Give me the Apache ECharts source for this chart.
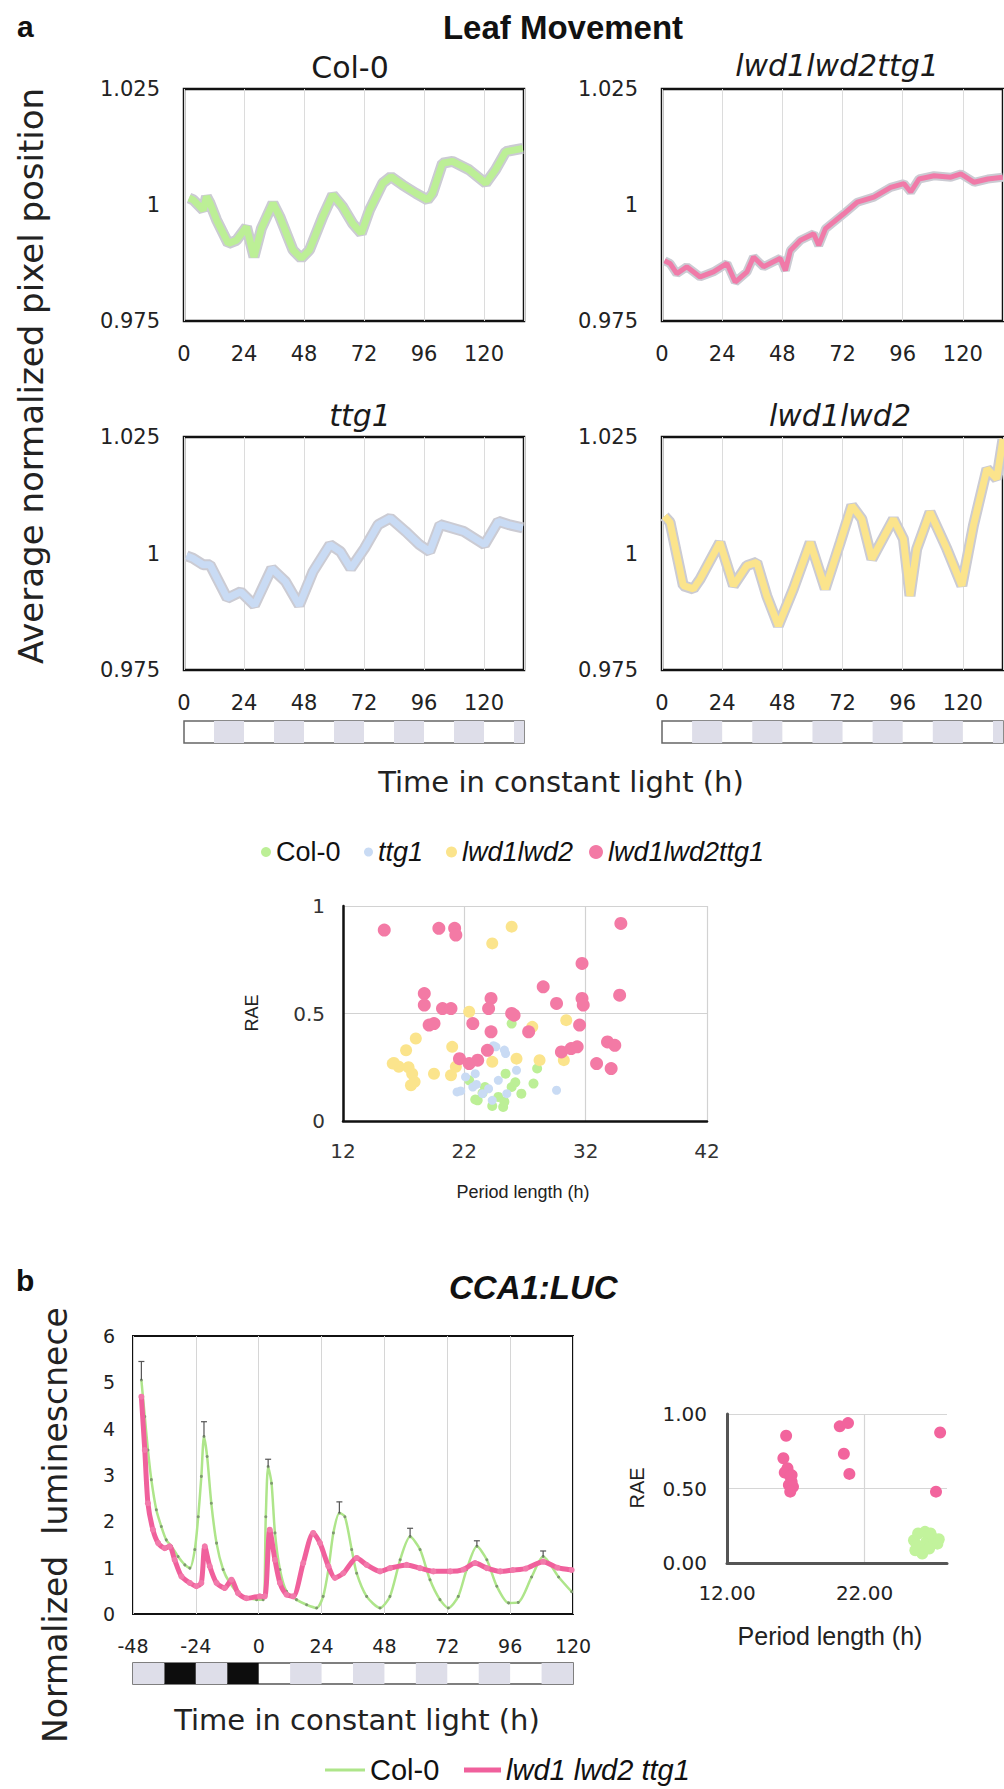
<!DOCTYPE html>
<html>
<head>
<meta charset="utf-8">
<style>
html,body{margin:0;padding:0;background:#fff;}
#chart{width:1004px;height:1789px;}
</style>
<script src="https://cdn.jsdelivr.net/npm/echarts@6/dist/echarts.min.js"></script>
</head>
<body>
<div id="chart"></div>
<script>
// ---------- Panel a: leaf movement traces (hours, normalized position) ----------
const col0H = [2, 3.7, 7.7, 9, 10.4, 13, 17.7, 21, 25, 28, 31, 35.6, 38.3, 43.6, 46.9, 50.2, 55.5, 59.5, 63.5, 67.5, 70.9, 74.2, 79.5, 82.8, 87.5, 92.8, 97.4, 99.4, 103.4, 107.4, 114, 120.7, 124.6, 128.7, 135.5];
const col0V = [1.0015, 1.0011, 0.9989, 1.0018, 1.0004, 0.9968, 0.9917, 0.9924, 0.9953, 0.9888, 0.9950, 1.0004, 0.9975, 0.9903, 0.9885, 0.9903, 0.9975, 1.0022, 0.9996, 0.9960, 0.9939, 0.9989, 1.0047, 1.0061, 1.0043, 1.0025, 1.0011, 1.0025, 1.0090, 1.0094, 1.0076, 1.0047, 1.0076, 1.0115, 1.0122];

const tripleH = [1, 3.2, 5.9, 9.9, 15.2, 20.5, 25.9, 29.2, 33.9, 36.5, 40.5, 47.2, 49.2, 51.2, 55.2, 60.5, 62.5, 65.2, 72.5, 77.9, 84.5, 91.2, 96.5, 99.2, 102.5, 108.5, 115.2, 119.2, 124.5, 129.9, 135.9];
const tripleV = [0.9880, 0.9874, 0.9852, 0.9867, 0.9845, 0.9856, 0.9874, 0.9834, 0.9856, 0.9888, 0.9867, 0.9885, 0.9859, 0.9902, 0.9924, 0.9938, 0.9913, 0.9949, 0.9981, 1.0006, 1.0017, 1.0038, 1.0046, 1.0028, 1.0056, 1.0063, 1.0060, 1.0067, 1.0049, 1.0056, 1.0060];

const ttgH = [1, 3.5, 7.6, 10.4, 17.3, 22.7, 28.2, 35.1, 40.6, 46.1, 51.6, 58.4, 62.6, 66.7, 72.2, 77.7, 82.5, 88.7, 94.2, 98.3, 102.4, 105.1, 112, 120.2, 125.7, 129.8, 135.5];
const ttgV = [0.9995, 0.9990, 0.9976, 0.9976, 0.9904, 0.9918, 0.9889, 0.9968, 0.9940, 0.9889, 0.9961, 1.0019, 1.0004, 0.9968, 1.0011, 1.0062, 1.0076, 1.0047, 1.0019, 1.0004, 1.0062, 1.0058, 1.0047, 1.0019, 1.0069, 1.0062, 1.0055];

const lwdH = [1, 3.2, 8.5, 12.5, 15.2, 23.1, 28.5, 33.8, 37.8, 41.8, 46.4, 52.4, 59.1, 65.1, 71.1, 75.7, 79.7, 83.7, 92.3, 96.3, 98.9, 101.6, 106.9, 113.6, 119.6, 124.2, 129.6, 133.5, 136];
const lwdV = [1.0080, 1.0067, 0.9931, 0.9924, 0.9945, 1.0024, 0.9931, 0.9974, 0.9981, 0.9909, 0.9845, 0.9924, 1.0024, 0.9924, 1.0024, 1.0103, 1.0074, 0.9988, 1.0074, 1.0031, 0.9909, 1.0010, 1.0089, 1.0010, 0.9931, 1.0060, 1.0182, 1.0160, 1.0246];

// subjective night blocks under panel a
const nightStartA = [12, 36, 60, 84, 108, 132];
const nightEndA = [24, 48, 72, 96, 120, 136];

// ---------- Panel a scatter: period length vs RAE ----------
const grnP = [25.9, 28.0, 27.7, 26.7, 25.4, 25.2, 23.1, 24.8, 22.4, 23.7, 25.9, 22.9, 25.3, 24.3, 23.5, 26.2];
const grnR = [0.453, 0.244, 0.174, 0.127, 0.220, 0.065, 0.096, 0.112, 0.189, 0.158, 0.158, 0.10, 0.09, 0.07, 0.13, 0.18];
const bluP = [24.6, 25.4, 26.3, 29.6, 21.4, 22.1, 22.7, 23.5, 24.3, 24.8, 25.5, 22.9, 24.4, 25.3, 23.0, 24.0, 21.7];
const bluR = [0.345, 0.314, 0.236, 0.143, 0.135, 0.205, 0.158, 0.127, 0.096, 0.189, 0.127, 0.22, 0.35, 0.33, 0.17, 0.15, 0.14];
const yelP = [25.9, 24.3, 22.4, 27.6, 30.4, 18.0, 17.2, 16.1, 16.6, 17.7, 17.9, 17.6, 19.5, 20.9, 21.0, 21.3, 24.3, 26.3, 28.2, 30.2, 16.2, 17.4];
const yelR = [0.904, 0.826, 0.508, 0.438, 0.469, 0.384, 0.329, 0.267, 0.252, 0.220, 0.182, 0.166, 0.220, 0.213, 0.345, 0.252, 0.275, 0.290, 0.283, 0.283, 0.27, 0.25];
const pnkP = [15.4, 19.9, 21.2, 21.3, 31.7, 34.9, 28.5, 18.7, 18.7, 20.2, 20.9, 19.1, 19.5, 24.2, 24.0, 22.7, 25.9, 26.1, 24.2, 29.6, 31.7, 31.8, 31.5, 27.3, 34.8, 33.8, 34.4, 32.9, 34.1, 30.0, 30.8, 31.3, 23.9, 21.6, 22.4, 23.1];
const pnkR = [0.888, 0.896, 0.896, 0.865, 0.733, 0.919, 0.624, 0.593, 0.539, 0.523, 0.523, 0.446, 0.453, 0.570, 0.523, 0.453, 0.500, 0.492, 0.415, 0.547, 0.570, 0.539, 0.446, 0.415, 0.585, 0.368, 0.352, 0.267, 0.244, 0.321, 0.337, 0.345, 0.329, 0.290, 0.267, 0.283];

// ---------- Panel b: CCA1:LUC luminescence ----------
const lucColH = [-44.8, -43.5, -42.3, -41, -39.1, -37.2, -35.3, -33.3, -30.8, -28.2, -26.3, -24.4, -23.1, -21.9, -20.9, -19.7, -18.1, -16.1, -13.6, -11, -7.2, -0.8, 1.7, 2.7, 3.6, 4.9, 6.2, 8.1, 10.6, 14.4, 18.3, 22.1, 24.6, 26.6, 28.5, 30.8, 32.9, 35.5, 37.4, 41.2, 46.3, 50.1, 54, 57.8, 61.6, 65.4, 69.2, 72.4, 76.2, 79.4, 83.3, 87.1, 90.9, 95.4, 99.1, 104.2, 108.6, 114.5, 119.5];
const lucColV = [5.05, 4.26, 3.54, 2.9, 2.25, 1.89, 1.6, 1.46, 1.24, 1.06, 0.99, 1.39, 2.1, 2.97, 3.83, 3.4, 2.39, 1.53, 0.96, 0.67, 0.42, 0.31, 0.31, 2.1, 3.18, 2.82, 1.75, 0.96, 0.49, 0.31, 0.2, 0.13, 0.38, 0.96, 1.75, 2.18, 2.1, 1.39, 0.88, 0.38, 0.13, 0.38, 1.17, 1.67, 1.39, 0.74, 0.31, 0.13, 0.38, 0.96, 1.46, 1.17, 0.6, 0.24, 0.25, 0.8, 1.24, 0.8, 0.48];
const lucTriH = [-44.8, -43.5, -42.3, -40.4, -38.4, -35.9, -34, -32.1, -29.5, -26.3, -23.8, -21.9, -20.6, -18.7, -16.1, -13, -10.4, -7.9, -4.7, 0.4, 2.3, 4.2, 6.2, 8.1, 10.6, 13.2, 17, 20.8, 23.4, 26.6, 29.1, 32.3, 37.4, 41.2, 46.3, 50.1, 56.5, 61.6, 66.7, 73.1, 78.2, 82.6, 87.1, 92.2, 97, 102, 108.6, 114, 119.5];
const lucTriV = [4.69, 3.54, 2.39, 1.82, 1.53, 1.42, 1.46, 1.17, 0.81, 0.67, 0.6, 0.67, 1.46, 1.03, 0.67, 0.56, 0.74, 0.45, 0.34, 0.38, 0.38, 1.82, 1.17, 0.67, 0.42, 0.38, 1.1, 1.75, 1.53, 1.03, 0.78, 0.88, 1.21, 1.06, 0.92, 0.99, 1.06, 0.99, 0.92, 0.92, 0.96, 1.1, 0.99, 0.92, 0.95, 0.98, 1.13, 1.0, 0.95];
// error bars at Col-0 peaks
const errH = [-44.8, -20.9, 3.6, 30.8, 57.8, 83.3, 108.6];
const errMean = [5.05, 3.83, 3.18, 2.18, 1.67, 1.46, 1.24];
const errHigh = [5.45, 4.15, 3.34, 2.42, 1.85, 1.58, 1.36];
// light/dark schedule bar under panel b
const lucBarStart = [-48, -36, -24, -12, 12, 36, 60, 84, 108];
const lucBarEnd = [-36, -24, -12, 0, 24, 48, 72, 96, 120];
const lucBarDark = [0, 1, 0, 1, 0, 0, 0, 0, 0];

// ---------- Panel b scatter ----------
const bPnkP = [16.3, 16.1, 16.4, 16.2, 16.6, 16.7, 16.5, 16.8, 16.6, 16.7, 20.2, 20.8, 20.5, 20.9, 27.5, 27.2];
const bPnkR = [0.854, 0.703, 0.636, 0.607, 0.58, 0.546, 0.524, 0.512, 0.479, 0.59, 0.917, 0.939, 0.733, 0.598, 0.876, 0.479];
const bGrnP = [25.7, 26.0, 26.5, 27.0, 27.4, 25.6, 25.9, 26.4, 26.8, 25.8, 26.2, 27.3, 26.7];
const bGrnR = [0.085, 0.108, 0.142, 0.164, 0.16, 0.153, 0.198, 0.209, 0.198, 0.119, 0.063, 0.13, 0.097];

// ---------- helpers ----------
const zip = (a, b) => a.map((v, i) => [v, b[i]]);
const DV = '"DejaVu Sans", sans-serif';
const AR = '"Liberation Sans", Arial, sans-serif';
const C_GRN = '#bcef96', C_BLU = '#c9dbf4', C_YEL = '#fbe48c', C_PNK = '#f37aa5';
const C_LUC_GRN = '#aee58a', C_LUC_PNK = '#f0609c';

const chart = echarts.init(document.getElementById('chart'), null, {renderer: 'svg', width: 1004, height: 1789});

const lineGrids = [
  {left: 184, top: 89, width: 340, height: 232},
  {left: 662, top: 89, width: 341, height: 232},
  {left: 184, top: 437, width: 340, height: 233},
  {left: 662, top: 437, width: 341, height: 233}
];
const grids = [];
lineGrids.forEach(g => grids.push(Object.assign({show: true, borderColor: '#111', borderWidth: 2.5, backgroundColor: '#fff'}, g)));
grids.push({left: 184, top: 721, width: 340, height: 22, show: true, borderColor: '#666', borderWidth: 1.5}); // 4
grids.push({left: 662, top: 721, width: 341, height: 22, show: true, borderColor: '#666', borderWidth: 1.5}); // 5
grids.push({left: 343, top: 906, width: 364, height: 215}); // 6 scatter a
grids.push({left: 133, top: 1336, width: 440, height: 278, show: true, borderColor: '#111', borderWidth: 2}); // 7 lum
grids.push({left: 133, top: 1663, width: 440, height: 21, show: true, borderColor: '#555', borderWidth: 1.5}); // 8 lum bar
grids.push({left: 727, top: 1414, width: 220, height: 149}); // 9 scatter b

const xAxes = [], yAxes = [];
for (let i = 0; i < 4; i++) {
  xAxes.push({gridIndex: i, type: 'value', min: 0, max: 136, interval: 24,
    axisLine: {show: false}, axisTick: {show: false},
    splitLine: {show: true, lineStyle: {color: '#dcdcdc', width: 1}},
    axisLabel: {fontSize: 21, color: '#222', fontFamily: DV, margin: 22, showMaxLabel: false}});
  yAxes.push({gridIndex: i, type: 'value', min: 0.975, max: 1.025, interval: 0.025,
    axisLine: {show: false}, axisTick: {show: false}, splitLine: {show: false},
    axisLabel: {fontSize: 21, color: '#222', fontFamily: DV, margin: 24,
      formatter: v => String(Math.round(v * 1000) / 1000)}});
}
for (let i = 4; i < 6; i++) {
  xAxes.push({gridIndex: i, type: 'value', min: 0, max: 136, show: false});
  yAxes.push({gridIndex: i, type: 'value', min: 0, max: 1, show: false});
}
// 6 scatter a
xAxes.push({gridIndex: 6, type: 'value', min: 12, max: 42, interval: 10,
  axisLine: {show: true, onZero: false, lineStyle: {color: '#111', width: 2.5}}, axisTick: {show: false},
  splitLine: {show: true, lineStyle: {color: '#d2d2d2', width: 1.2}},
  axisLabel: {fontSize: 20, color: '#333', fontFamily: DV, margin: 20}});
yAxes.push({gridIndex: 6, type: 'value', min: 0, max: 1, interval: 0.5,
  axisLine: {show: true, onZero: false, lineStyle: {color: '#111', width: 2.5}}, axisTick: {show: false},
  splitLine: {show: true, lineStyle: {color: '#d2d2d2', width: 1.2}},
  axisLabel: {fontSize: 20, color: '#333', fontFamily: DV, margin: 18}});
// 7 luminescence
xAxes.push({gridIndex: 7, type: 'value', min: -48, max: 120, interval: 24,
  axisLine: {show: false}, axisTick: {show: false},
  splitLine: {show: true, lineStyle: {color: '#d6d6d6', width: 1}},
  axisLabel: {fontSize: 19, color: '#222', fontFamily: DV, margin: 22}});
yAxes.push({gridIndex: 7, type: 'value', min: 0, max: 6, interval: 1,
  axisLine: {show: false}, axisTick: {show: false}, splitLine: {show: false},
  axisLabel: {fontSize: 19, color: '#222', fontFamily: DV, margin: 18}});
// 8 lum bar
xAxes.push({gridIndex: 8, type: 'value', min: -48, max: 120, show: false});
yAxes.push({gridIndex: 8, type: 'value', min: 0, max: 1, show: false});
// 9 scatter b
xAxes.push({gridIndex: 9, type: 'value', min: 12, max: 28, interval: 10,
  axisLine: {show: true, onZero: false, lineStyle: {color: '#555', width: 3}}, axisTick: {show: false},
  splitLine: {show: true, showMaxLine: false, lineStyle: {color: '#d6d6d6', width: 1.2}},
  axisLabel: {fontSize: 20, color: '#222', fontFamily: DV, margin: 20, showMaxLabel: false,
    formatter: v => v.toFixed(2)}});
yAxes.push({gridIndex: 9, type: 'value', min: 0, max: 1, interval: 0.5,
  axisLine: {show: true, onZero: false, lineStyle: {color: '#555', width: 3}}, axisTick: {show: false},
  splitLine: {show: true, lineStyle: {color: '#d6d6d6', width: 1.2}},
  axisLabel: {fontSize: 20, color: '#222', fontFamily: DV, margin: 20, formatter: v => v.toFixed(2)}});

const series = [];
function movement(idx, name, H, V, color, w) {
  const d = zip(H, V);
  series.push({type: 'line', name: name + ' SE', xAxisIndex: idx, yAxisIndex: idx, data: d, showSymbol: false,
    silent: true, clip: true, lineStyle: {color: '#cbcbd3', width: w + 4}, z: 2});
  series.push({type: 'line', name: name, xAxisIndex: idx, yAxisIndex: idx, data: d, showSymbol: false,
    clip: true, lineStyle: {color: color, width: w}, z: 3});
}
movement(0, 'Col-0 leaf', col0H, col0V, C_GRN, 7);
movement(1, 'lwd1lwd2ttg1 leaf', tripleH, tripleV, '#f07aa8', 5);
movement(2, 'ttg1 leaf', ttgH, ttgV, C_BLU, 7);
movement(3, 'lwd1lwd2 leaf', lwdH, lwdV, C_YEL, 7);

function nightBar(idx, starts, ends, darks) {
  series.push({type: 'custom', xAxisIndex: idx, yAxisIndex: idx, silent: true,
    data: starts.map((s, i) => [s, ends[i], darks ? darks[i] : 0]),
    renderItem: (params, api) => {
      const p0 = api.coord([api.value(0), 1]);
      const p1 = api.coord([api.value(1), 0]);
      return {type: 'rect', shape: {x: p0[0], y: p0[1], width: p1[0] - p0[0], height: p1[1] - p0[1]},
        style: {fill: api.value(2) ? '#0d0d0d' : '#dedee9'}};
    }});
}
nightBar(4, nightStartA, nightEndA);
nightBar(5, nightStartA, nightEndA);

function scat(name, P, R, color, size) {
  series.push({type: 'scatter', name: name, xAxisIndex: 6, yAxisIndex: 6, data: zip(P, R),
    symbolSize: size, itemStyle: {color: color, opacity: 1}});
}
scat('Col-0', grnP, grnR, C_GRN, 10);
scat('ttg1', bluP, bluR, C_BLU, 9);
scat('lwd1lwd2', yelP, yelR, C_YEL, 12);
scat('lwd1lwd2ttg1', pnkP, pnkR, C_PNK, 13);

series.push({type: 'line', name: 'Col-0 LUC', xAxisIndex: 7, yAxisIndex: 7, data: zip(lucColH, lucColV),
  smooth: 0.25, symbol: 'circle', symbolSize: 3, showSymbol: true,
  lineStyle: {color: C_LUC_GRN, width: 2.5}, itemStyle: {color: '#7f9a70'}, z: 3});
series.push({type: 'line', name: 'lwd1 lwd2 ttg1 LUC', xAxisIndex: 7, yAxisIndex: 7, data: zip(lucTriH, lucTriV),
  smooth: 0.25, symbol: 'circle', symbolSize: 6, showSymbol: true,
  lineStyle: {color: C_LUC_PNK, width: 5}, itemStyle: {color: '#f27aab'}, z: 4});
series.push({type: 'custom', name: 'Col-0 SE', xAxisIndex: 7, yAxisIndex: 7, silent: true, z: 5,
  data: errH.map((h, i) => [h, errMean[i], errHigh[i]]),
  renderItem: (params, api) => {
    const top = api.coord([api.value(0), api.value(2)]);
    const mid = api.coord([api.value(0), api.value(1)]);
    return {type: 'group', children: [
      {type: 'line', shape: {x1: top[0], y1: top[1], x2: mid[0], y2: mid[1]}, style: {stroke: '#555', lineWidth: 1.2}},
      {type: 'line', shape: {x1: top[0] - 3, y1: top[1], x2: top[0] + 3, y2: top[1]}, style: {stroke: '#555', lineWidth: 1.2}}
    ]};
  }});
nightBar(8, lucBarStart, lucBarEnd, lucBarDark);

series.push({type: 'scatter', name: 'Col-0 RAE', xAxisIndex: 9, yAxisIndex: 9, data: zip(bGrnP, bGrnR),
  symbolSize: 12, itemStyle: {color: '#c2f39c', opacity: 1}});
series.push({type: 'scatter', name: 'lwd1 lwd2 ttg1 RAE', xAxisIndex: 9, yAxisIndex: 9, data: zip(bPnkP, bPnkR),
  symbolSize: 12, itemStyle: {color: '#f2649d', opacity: 1}});

function legendItem(name, left, top, size, italic) {
  return {show: true, selectedMode: false, left: left, top: top, orient: 'horizontal', padding: 0,
    itemWidth: size, itemHeight: size, icon: 'circle', data: [name],
    textStyle: {fontSize: 27, fontFamily: AR, color: '#111', fontStyle: italic ? 'italic' : 'normal', lineHeight: 30}};
}
function lineLegend(name, left, top, w, h, color, italic, label) {
  return {show: true, selectedMode: false, left: left, top: top, padding: 0, itemGap: 0,
    itemWidth: w, itemHeight: h, data: [{name: name, icon: 'rect', itemStyle: {color: color}}],
    formatter: () => label,
    textStyle: {fontSize: 29, fontFamily: AR, color: '#111', fontStyle: italic ? 'italic' : 'normal', lineHeight: 32}};
}
const legends = [
  legendItem('Col-0', 261, 837, 10, false),
  legendItem('ttg1', 364, 837, 9, true),
  legendItem('lwd1lwd2', 446, 837, 11, true),
  legendItem('lwd1lwd2ttg1', 589, 837, 14, true),
  lineLegend('Col-0 LUC', 325, 1754, 40, 3, C_LUC_GRN, false, 'Col-0'),
  lineLegend('lwd1 lwd2 ttg1 LUC', 464, 1754, 37, 5, C_LUC_PNK, true, 'lwd1 lwd2 ttg1')
];

function txt(text, x, y, font, opts) {
  opts = opts || {};
  return {type: 'text', x: x, y: y, rotation: opts.rot || 0, silent: true,
    style: {text: text, font: font, fill: opts.fill || '#111', align: opts.align || 'center', verticalAlign: 'middle'}};
}
const graphics = [
  txt('a', 17, 26, 'bold 30px ' + AR, {align: 'left'}),
  txt('Leaf Movement', 563, 27, 'bold 33px ' + AR),
  txt('Col-0', 350, 67, '30px ' + DV, {fill: '#1a1a1a'}),
  txt('lwd1lwd2ttg1', 837, 65, 'italic 30px ' + DV, {fill: '#1a1a1a'}),
  txt('ttg1', 360, 415, 'italic 30px ' + DV, {fill: '#1a1a1a'}),
  txt('lwd1lwd2', 840, 415, 'italic 30px ' + DV, {fill: '#1a1a1a'}),
  txt('Average normalized pixel position', 31, 376, '34px ' + DV, {rot: Math.PI / 2, fill: '#222'}),
  txt('Time in constant light (h)', 561, 782, '29px ' + DV, {fill: '#222'}),
  txt('RAE', 252, 1013, '18px ' + AR, {rot: Math.PI / 2, fill: '#222'}),
  txt('Period length (h)', 523, 1192, '18px ' + AR, {fill: '#222'}),
  txt('b', 16, 1280, 'bold 30px ' + AR, {align: 'left'}),
  txt('CCA1:LUC', 449, 1287, 'italic bold 33px ' + AR, {align: 'left'}),
  txt('Normalized  luminescnece', 55, 1525, '33px ' + DV, {rot: Math.PI / 2, fill: '#222'}),
  txt('Time in constant light (h)', 357, 1720, '29px ' + DV, {fill: '#222'}),
  txt('RAE', 637, 1488, '20px ' + AR, {rot: Math.PI / 2, fill: '#222'}),
  txt('Period length (h)', 830, 1636, '25px ' + AR, {fill: '#222'})
];

chart.setOption({
  animation: false,
  backgroundColor: '#fff',
  grid: grids,
  xAxis: xAxes,
  yAxis: yAxes,
  legend: legends,
  series: series,
  graphic: graphics
});
</script>
</body>
</html>
